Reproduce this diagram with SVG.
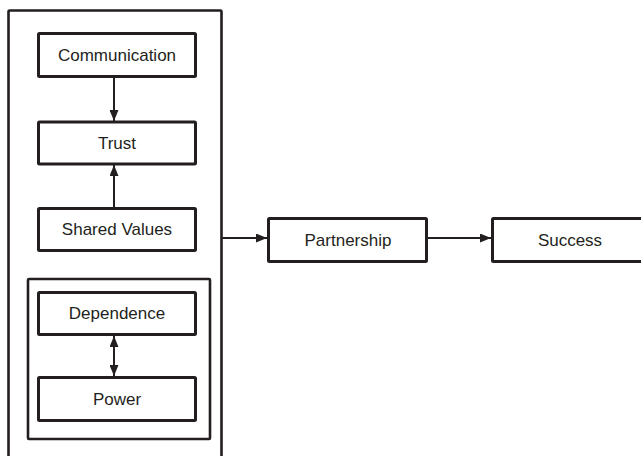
<svg xmlns="http://www.w3.org/2000/svg" width="641" height="456" viewBox="0 0 641 456">
<style>
.box{fill:#fff;stroke:#231f20;stroke-width:3}
.grp{fill:none;stroke:#231f20;stroke-width:2.6}
.lbl{font-family:"Liberation Sans",Arial,sans-serif;font-size:17px;fill:#231f20;text-anchor:middle}
.con{stroke:#231f20;stroke-width:2;fill:none}
</style>
<defs>
<marker id="ah" markerWidth="11" markerHeight="9" refX="11" refY="4.5" orient="auto-start-reverse" markerUnits="userSpaceOnUse">
<path d="M0,0 L11,4.5 L0,9 Z" fill="#231f20"/>
</marker>
</defs>
<rect width="641" height="456" fill="#fff"/>
<g id="outer"><rect class="grp" x="8.5" y="10.5" width="213" height="460" rx="1"/></g>
<g id="powergroup"><rect class="grp" x="28" y="279" width="182" height="160" rx="1"/></g>
<g id="communication"><rect class="box" x="38.5" y="33.5" width="157" height="43" rx="1"/><text class="lbl" x="117" y="61">Communication</text></g>
<g id="trust"><rect class="box" x="38.5" y="122" width="157" height="42" rx="1"/><text class="lbl" x="117" y="149">Trust</text></g>
<g id="shared"><rect class="box" x="38.5" y="208.5" width="157" height="42" rx="1"/><text class="lbl" x="117" y="235">Shared Values</text></g>
<g id="dependence"><rect class="box" x="38.5" y="292.5" width="157" height="42" rx="1"/><text class="lbl" x="117" y="319">Dependence</text></g>
<g id="power"><rect class="box" x="38.5" y="377.5" width="157" height="43" rx="1"/><text class="lbl" x="117" y="405">Power</text></g>
<g id="partnership"><rect class="box" x="268.5" y="218.5" width="158" height="43" rx="1"/><text class="lbl" x="348" y="246">Partnership</text></g>
<g id="success"><rect class="box" x="492.5" y="218.5" width="160" height="43" rx="1"/><text class="lbl" x="570" y="246">Success</text></g>
<g id="connectors">
<line class="con" x1="114" y1="78" x2="114" y2="121" marker-end="url(#ah)"/>
<line class="con" x1="114" y1="207" x2="114" y2="165" marker-end="url(#ah)"/>
<line class="con" x1="114" y1="336" x2="114" y2="376" marker-start="url(#ah)" marker-end="url(#ah)"/>
<line class="con" x1="222" y1="238" x2="267" y2="238" marker-end="url(#ah)"/>
<line class="con" x1="428" y1="238" x2="491" y2="238" marker-end="url(#ah)"/>
</g>
</svg>
